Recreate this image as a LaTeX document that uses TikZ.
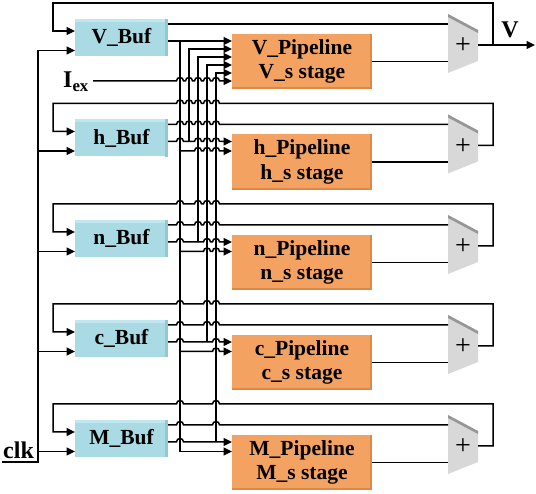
\documentclass[tikz,border=0pt]{standalone}
\usepackage{fontspec}
\setmainfont{Liberation Serif}
\usetikzlibrary{arrows.meta}
\definecolor{bufblue}{RGB}{170,219,229}
\definecolor{bufdark}{RGB}{146,199,212}
\definecolor{buflight}{RGB}{192,231,239}
\definecolor{pipeor}{RGB}{244,162,97}
\definecolor{pipedark}{RGB}{222,136,72}
\definecolor{addgray}{RGB}{216,216,216}
\definecolor{adddark}{RGB}{150,150,150}
\tikzset{
  wire/.style={line width=1.5pt},
  arr/.style={line width=1.5pt,-{Triangle[length=8.5pt,width=8pt]}},
  bufbox/.style={fill=bufblue,minimum width=93pt,minimum height=37pt,inner sep=0pt,
     font=\fontsize{21.5}{24}\selectfont\bfseries},
  pipebox/.style={fill=pipeor,minimum width=140pt,minimum height=55pt,inner sep=0pt,
     align=center,font=\fontsize{21.5}{24.5}\selectfont\bfseries},
  lbl/.style={inner sep=0pt,font=\fontsize{24}{26}\selectfont\bfseries},
  plus/.style={inner sep=0pt,font=\fontsize{28}{28}\selectfont},
}
\newcommand\hopsR[2]{\foreach \hx in {#2}{ -- (\hx-3.5,#1) .. controls (\hx-3.5,#1-4.6) and (\hx+3.5,#1-4.6) .. (\hx+3.5,#1)}}
\newcommand\hopsL[2]{\foreach \hx in {#2}{ -- (\hx+3.5,#1) .. controls (\hx+3.5,#1-4.6) and (\hx-3.5,#1-4.6) .. (\hx-3.5,#1)}}
\begin{document}
\begin{tikzpicture}[x=1pt,y=-1pt]
\useasboundingbox (0,0) rectangle (536,494);
% blocks of every row
\foreach \n/\t in {V/19,h/119.5,n/220,c/320,M/420}{
  \node[bufbox] (b\n) at (121.5,\t+18.5) {\n\_Buf};
  \fill[buflight] (b\n.north west) rectangle ([yshift=-3pt]b\n.north east);
  \fill[bufdark] ([xshift=-3pt]b\n.north east) rectangle (b\n.south east);
  \node[pipebox] (p\n) at (302,\t+42.5) {\n\_Pipeline\\\n\_s stage};
  \fill[pipedark] ([xshift=-2pt]p\n.north east) rectangle (p\n.south east);
  \fill[pipedark] ([yshift=2pt]p\n.south west) rectangle (p\n.south east);
  \fill[addgray] (448,\t-5) -- (478,\t+11) -- (478,\t+42) -- (448,\t+54) -- cycle;
  \fill[adddark] (448,\t-5) -- (478,\t+11) -- (478,\t+14) -- (448,\t-2) -- cycle;
  \node[plus] (a\n) at (463,\t+27) {+};
  \coordinate (a\n-in2) at (448,\t+42.5);
  \coordinate (a\n-out) at (478,\t+26);
  \draw[wire] (p\n.east) -- (a\n-in2);
  \draw[arr] (38,\t+31.5) -- (75,\t+31.5);
}
% clk
\node[lbl,anchor=base west] (clk) at (3,459) {clk};
\draw[wire] (2,462) -- (38,462) -- (38,50.5);
% I_ex
\node[lbl,anchor=base west] (iex) at (63,88) {I\textsubscript{ex}};
\draw[arr] (93,81) \hopsR{81}{180,189,198,207,216} -- (232,81);
% V output
\node[lbl] (vout) at (510,30) {V};
\draw[arr] (aV-out) -- (535,45);
% feedback loops
\draw[arr] (493,45) -- (493,3) -- (53,3) -- (53,31) -- (75,31);
\draw[arr] (ah-out) -- (493,145.5) -- (493,103.5) \hopsL{103.5}{216,207,198,189,180} -- (53,103.5) -- (53,131.5) -- (75,131.5);
\draw[arr] (an-out) -- (493,246) -- (493,204) \hopsL{204}{216,207,198,180} -- (53,204) -- (53,232) -- (75,232);
\draw[arr] (ac-out) -- (493,346) -- (493,304) \hopsL{304}{216,207,180} -- (53,304) -- (53,332) -- (75,332);
\draw[arr] (aM-out) -- (493,446) -- (493,404) \hopsL{404}{216,180} -- (53,404) -- (53,432) -- (75,432);
% buffer outputs to adders
\draw[wire] (168,24) -- (448,24);
\draw[wire] (168,124.5) \hopsR{124.5}{180,189,198,207,216} -- (448,124.5);
\draw[wire] (168,225) \hopsR{225}{180,198,207,216} -- (448,225);
\draw[wire] (168,325) \hopsR{325}{180,207,216} -- (448,325);
\draw[wire] (168,425) \hopsR{425}{180,216} -- (448,425);
% buffer outputs to own pipeline
\draw[arr] (168,41) -- (232,41);
\draw[arr] (168,141.5) \hopsR{141.5}{180} -- (189,141.5) \hopsR{141.5}{198,207,216} -- (232,141.5);
\draw[arr] (168,242) \hopsR{242}{180} -- (198,242) \hopsR{242}{207,216} -- (232,242);
\draw[arr] (168,342) \hopsR{342}{180} -- (207,342) \hopsR{342}{216} -- (232,342);
\draw[arr] (168,442) \hopsR{442}{180} -- (232,442);
% V bus to other pipelines
\draw[arr] (180,151) \hopsR{151}{198,207,216} -- (232,151);
\draw[arr] (180,251.5) \hopsR{251.5}{207,216} -- (232,251.5);
\draw[arr] (180,351.5) \hopsR{351.5}{216} -- (232,351.5);
\draw[arr] (180,41) -- (180,451.5) -- (232,451.5);
% buses up to V pipeline
\draw[arr] (189,141.5) -- (189,49) -- (232,49);
\draw[arr] (198,242) -- (198,57) -- (232,57);
\draw[arr] (207,342) -- (207,65) -- (232,65);
\draw[arr] (216,442) -- (216,73) -- (232,73);
\end{tikzpicture}
\end{document}
